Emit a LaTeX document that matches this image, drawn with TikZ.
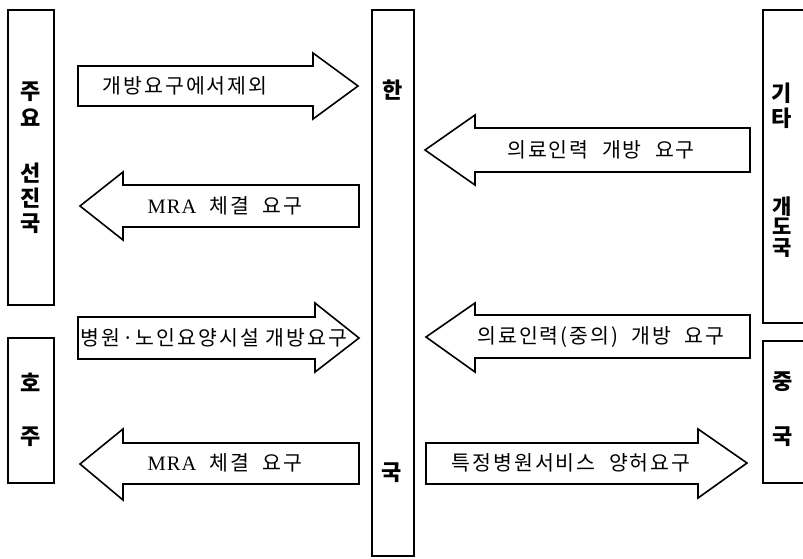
\documentclass[tikz,border=0pt]{standalone}
\usepackage{fontspec}
\newfontfamily\kr{Noto Sans CJK KR}
\newfontfamily\krs[LetterSpace=10]{Noto Sans CJK KR}
\newfontfamily\lat[LetterSpace=5]{Liberation Serif}
\begin{document}
\begin{tikzpicture}[x=1pt,y=-1pt,
  box/.style={draw,line width=1.6pt},
  barrow/.style={draw,line width=1.6pt,fill=white,line join=miter},
  lbl/.style={font=\kr\bfseries\fontsize{22}{26}\selectfont,align=center,inner sep=0pt},
  atxt/.style={font=\krs\fontsize{20.5}{24}\selectfont,inner sep=0pt}]
\useasboundingbox (0,0) rectangle (803,558);
\clip (0,0) rectangle (803,558);
% boxes
\draw[box] (8,10) rectangle (54,305);
\draw[box] (8,338) rectangle (54,483);
\draw[box] (372,10) rectangle (414,556);
\draw[box] (763,10) rectangle (810,323);
\draw[box] (763,341) rectangle (810,483);
% box labels
\node[lbl,font=\kr\bfseries\fontsize{22}{27}\selectfont] (juyo) at (31,104) {주\\요};
\node[lbl,font=\kr\bfseries\fontsize{22}{25}\selectfont] (seonjin) at (31,198) {선\\진\\국};
\node[lbl] (ho) at (31,382) {호};
\node[lbl] (ju) at (31,437) {주};
\node[lbl] (han) at (393,90) {한};
\node[lbl] (guk) at (392,473) {국};
\node[lbl,font=\kr\bfseries\fontsize{22}{25}\selectfont] (gita) at (782,105.5) {기\\타};
\node[lbl,font=\kr\bfseries\fontsize{21}{20.5}\selectfont] (gaedo) at (782,227) {개\\도\\국};
\node[lbl] (jung) at (783,382) {중};
\node[lbl] (guk2) at (783,437) {국};
% block arrows
\draw[barrow] (78,66) -- (313,66) -- (313,53) -- (358,86) -- (313,119) -- (313,106) -- (78,106) -- cycle;
\draw[barrow] (359,185) -- (123,185) -- (123,172) -- (80,206) -- (123,240) -- (123,227) -- (359,227) -- cycle;
\draw[barrow] (750,128) -- (475,128) -- (475,115) -- (425,150) -- (475,185) -- (475,172) -- (750,172) -- cycle;
\draw[barrow] (78,317) -- (315,317) -- (315,303) -- (359,338) -- (315,372) -- (315,359) -- (78,359) -- cycle;
\draw[barrow] (359,443) -- (123,443) -- (123,429) -- (80,464) -- (123,500) -- (123,484) -- (359,484) -- cycle;
\draw[barrow] (750,315) -- (475,315) -- (475,303) -- (426,337) -- (475,372) -- (475,358) -- (750,358) -- cycle;
\draw[barrow] (426,443) -- (698,443) -- (698,429) -- (747,463) -- (698,498) -- (698,484) -- (426,484) -- cycle;
% arrow texts
\node[atxt] (t1) at (185,86) {개방요구에서제외};
\node[atxt] (t2) at (225,206) {{\lat MRA}\ \ 체결\ \ 요구};
\node[atxt] (t3) at (601,150) {의료인력\ \ 개방\ \ 요구};
\node[atxt] (t4) at (214,338) {병원·노인요양시설 개방요구};
\node[atxt] (t5) at (225,463) {{\lat MRA}\ \ 체결\ \ 요구};
\node[atxt] (t6) at (601,337) {의료인력(중의)\ \ 개방\ \ 요구};
\node[atxt] (t7) at (571,463) {특정병원서비스\ \ 양허요구};
\end{tikzpicture}
\end{document}
